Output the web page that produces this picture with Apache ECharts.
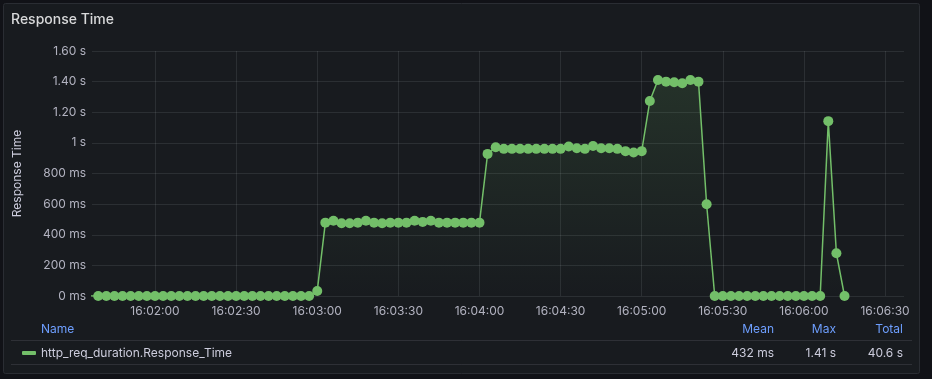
<!DOCTYPE html>
<html>
<head>
<meta charset="utf-8">
<script src="https://cdn.jsdelivr.net/npm/echarts@6/dist/echarts.min.js"></script>
<style>
html,body{margin:0;padding:0;background:#111217;}
#c{width:932px;height:379px;}
</style>
</head>
<body>
<div id="c"></div>
<script>
// ---- data ----
var panelTitle = 'Response Time';
var seriesName = 'http_req_duration.Response_Time';
var startTime = '16:01:36';   // first sample
var stepSeconds = 3;
var responseMs = [
  0, 0, 0, 0, 0, 0, 0, 0, 0, 0, 0, 0, 0, 0, 0, 0, 0, 0, 0, 0, 0, 0, 0, 0, 0, 0, 0, 0,
  33,
  479, 492, 475, 475, 479, 492, 479, 475, 479, 479, 479, 492, 484, 492, 479, 479, 479, 479, 479, 479,
  928, 972, 961, 961, 961, 961, 961, 961, 961, 961, 976, 965, 961, 980, 965, 965, 961, 946, 937, 946,
  1274, 1411, 1400, 1396, 1389, 1411, 1400,
  599,
  0, 0, 0, 0, 0, 0, 0, 0, 0, 0, 0, 0, 0, 0,
  1142, 279, 0
];
var xTickLabels = ['16:02:00', '16:02:30', '16:03:00', '16:03:30', '16:04:00',
                   '16:04:30', '16:05:00', '16:05:30', '16:06:00', '16:06:30'];
var yTickValues = [0, 200, 400, 600, 800, 1000, 1200, 1400, 1600];
var yTickLabels = ['0 ms', '200 ms', '400 ms', '600 ms', '800 ms', '1 s', '1.20 s', '1.40 s', '1.60 s'];
var legendHeaders = ['Name', 'Mean', 'Max', 'Total'];
var legendStats = ['432 ms', '1.41 s', '40.6 s'];
var axisMin = '16:01:36.7';
var axisMax = '16:06:37';

// ---- build ----
// x is expressed in seconds since 16:00:00
function t(str) {
  var p = str.split(':');
  return (+p[0] - 16) * 3600 + (+p[1]) * 60 + parseFloat(p[2]);
}
var t0 = t(startTime);
var seriesData = responseMs.map(function (v, i) { return [t0 + i * stepSeconds, v]; });
var xTickTimes = xTickLabels.map(t);

var FONT = 'Inter';
var TXT = '#ccccdc';
var AX = 'rgba(204,204,220,0.85)';
var GRIDC = 'rgba(240,250,255,0.09)';
var GREEN = '#73bf69';

var chart = echarts.init(document.getElementById('c'), null, { renderer: 'canvas' });
chart.setOption({
  backgroundColor: '#111217',
  animation: false,
  textStyle: { fontFamily: FONT },
  grid: { left: 92, right: 28, top: 51, bottom: 83, containLabel: false },
  xAxis: {
    type: 'value',
    min: t(axisMin),
    max: t(axisMax),
    axisLine: { show: false },
    axisTick: { show: false, customValues: xTickTimes },
    splitLine: { show: true, lineStyle: { color: GRIDC, width: 1 } },
    axisLabel: {
      customValues: xTickTimes,
      color: AX, fontSize: 12, fontFamily: FONT, margin: 9, hideOverlap: false,
      formatter: function (val) {
        var i = xTickTimes.indexOf(val);
        return i >= 0 ? xTickLabels[i] : '';
      }
    }
  },
  yAxis: {
    type: 'value',
    min: yTickValues[0],
    max: yTickValues[yTickValues.length - 1],
    interval: yTickValues[1] - yTickValues[0],
    name: 'Response Time',
    nameLocation: 'middle',
    nameGap: 69,
    nameRotate: 90,
    nameTextStyle: { color: TXT, fontSize: 12, fontFamily: FONT },
    axisLine: { show: false },
    axisTick: { show: false },
    splitLine: { show: true, lineStyle: { color: GRIDC, width: 1 } },
    axisLabel: {
      color: AX, fontSize: 12, fontFamily: FONT, margin: 6,
      formatter: function (v) {
        var i = yTickValues.indexOf(v);
        return i >= 0 ? yTickLabels[i] : '';
      }
    }
  },
  legend: {
    show: true,
    left: 17,
    top: 342,
    icon: 'roundRect',
    itemWidth: 14,
    itemHeight: 4,
    itemGap: 10,
    textStyle: { color: TXT, fontSize: 12, fontFamily: FONT, padding: [0, 0, 0, 0] },
    data: [seriesName]
  },
  series: [{
    name: seriesName,
    type: 'line',
    data: seriesData,
    symbol: 'circle',
    symbolSize: 10,
    showAllSymbol: true,
    color: GREEN,
    itemStyle: { color: GREEN },
    lineStyle: { color: GREEN, width: 1.5 },
    areaStyle: {
      color: new echarts.graphic.LinearGradient(0, 0, 0, 1, [
        { offset: 0, color: 'rgba(115,191,105,0.20)' },
        { offset: 1, color: 'rgba(115,191,105,0.0)' }
      ])
    },
    clip: true,
    z: 3
  }],
  graphic: [
    { type: 'rect', z: -10, silent: true, shape: { x: 3.5, y: 3.5, width: 916, height: 370, r: 2 },
      style: { fill: '#181b1f', stroke: '#2a2d33', lineWidth: 1 } },
    { type: 'text', x: 11, y: 20, silent: true,
      style: { text: panelTitle, fill: '#d8d9da', font: '500 14px Inter', textVerticalAlign: 'middle' } },
    { type: 'text', x: 41, y: 329, silent: true,
      style: { text: legendHeaders[0], fill: '#6e9fff', font: '12px Inter', textAlign: 'left', textVerticalAlign: 'middle' } },
    { type: 'text', x: 774, y: 329, silent: true,
      style: { text: legendHeaders[1], fill: '#6e9fff', font: '12px Inter', textAlign: 'right', textVerticalAlign: 'middle' } },
    { type: 'text', x: 836, y: 329, silent: true,
      style: { text: legendHeaders[2], fill: '#6e9fff', font: '12px Inter', textAlign: 'right', textVerticalAlign: 'middle' } },
    { type: 'text', x: 903, y: 329, silent: true,
      style: { text: legendHeaders[3], fill: '#6e9fff', font: '12px Inter', textAlign: 'right', textVerticalAlign: 'middle' } },
    { type: 'line', silent: true, shape: { x1: 11, y1: 340.5, x2: 912, y2: 340.5 },
      style: { stroke: 'rgba(204,204,220,0.12)', lineWidth: 1 } },
    { type: 'line', silent: true, shape: { x1: 11, y1: 364.5, x2: 912, y2: 364.5 },
      style: { stroke: 'rgba(204,204,220,0.12)', lineWidth: 1 } },
    { type: 'text', x: 774, y: 353, silent: true,
      style: { text: legendStats[0], fill: TXT, font: '12px Inter', textAlign: 'right', textVerticalAlign: 'middle' } },
    { type: 'text', x: 836, y: 353, silent: true,
      style: { text: legendStats[1], fill: TXT, font: '12px Inter', textAlign: 'right', textVerticalAlign: 'middle' } },
    { type: 'text', x: 903, y: 353, silent: true,
      style: { text: legendStats[2], fill: TXT, font: '12px Inter', textAlign: 'right', textVerticalAlign: 'middle' } }
  ]
});
</script>
</body>
</html>
